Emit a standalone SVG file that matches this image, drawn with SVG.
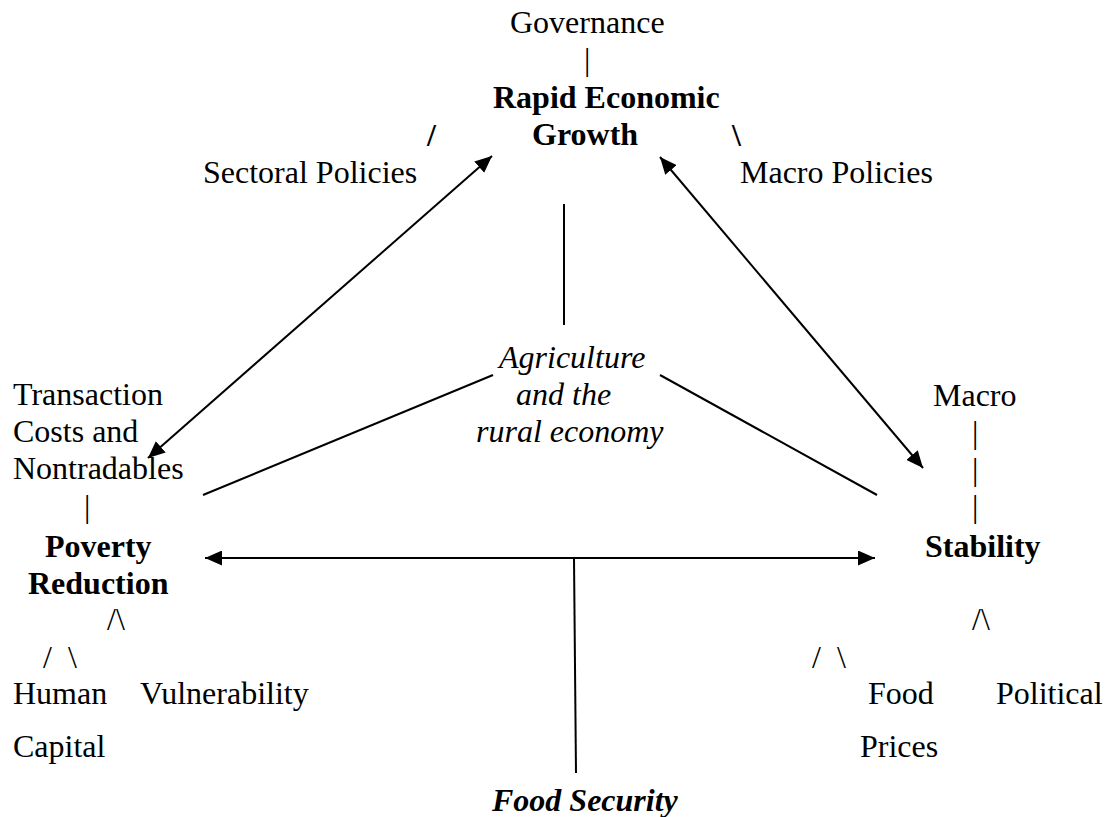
<svg xmlns="http://www.w3.org/2000/svg" width="1105" height="817" viewBox="0 0 1105 817">
<style>
text{font-family:'Liberation Serif','Times New Roman',Times,'DejaVu Serif',serif;font-size:32px;fill:#000}
.b{font-weight:bold}
.i{font-style:italic}
.c{stroke:#000;stroke-width:2;fill:none}
</style>
<defs>
<marker id="ah" markerUnits="userSpaceOnUse" markerWidth="17" markerHeight="15" refX="17" refY="7.5" orient="auto-start-reverse">
<path d="M0,0 L17,7.5 L0,15 z" fill="#000"/>
</marker>
</defs>
<rect width="1105" height="817" fill="#fff"/>
<g id="connectors">
<line class="c" x1="148" y1="458" x2="492" y2="156" marker-start="url(#ah)" marker-end="url(#ah)"/>
<line class="c" x1="660" y1="157" x2="923" y2="468" marker-start="url(#ah)" marker-end="url(#ah)"/>
<line class="c" x1="205" y1="558" x2="875" y2="558" marker-start="url(#ah)" marker-end="url(#ah)"/>
<line class="c" x1="564" y1="204" x2="564" y2="325"/>
<line class="c" x1="203" y1="495" x2="493" y2="375"/>
<line class="c" x1="660" y1="375" x2="877" y2="495"/>
<line class="c" x1="574" y1="558" x2="576" y2="773"/>
</g>
<g id="governance" font-family="Liberation Serif, serif"><text x="510" y="33">Governance</text><text x="584" y="70">|</text></g>
<g id="growth"><text class="b" x="493" y="108">Rapid Economic</text><text class="b" x="532" y="145">Growth</text></g>
<g id="sectoral"><text class="b" x="427" y="146">/</text><text x="203" y="183">Sectoral Policies</text></g>
<g id="macro-policies"><text class="b" x="732" y="146">\</text><text x="740" y="183">Macro Policies</text></g>
<g id="agriculture"><text class="i" x="499" y="368">Agriculture</text><text class="i" x="516" y="405">and the</text><text class="i" x="476" y="442">rural economy</text></g>
<g id="transaction"><text x="13" y="405">Transaction</text><text x="13" y="442">Costs and</text><text x="13" y="479">Nontradables</text><text x="84" y="517">|</text></g>
<g id="poverty"><text class="b" x="45" y="557">Poverty</text><text class="b" x="28" y="594">Reduction</text></g>
<g id="poverty-branches"><text x="107" y="630">/\</text><text x="43" y="668">/</text><text x="68" y="668">\</text></g>
<g id="human-capital"><text x="13" y="704">Human</text><text x="13" y="757">Capital</text></g>
<g id="vulnerability"><text x="140" y="704">Vulnerability</text></g>
<g id="macro"><text x="933" y="406">Macro</text><text x="972" y="443">|</text><text x="972" y="480">|</text><text x="972" y="517">|</text></g>
<g id="stability"><text class="b" x="925" y="557">Stability</text></g>
<g id="stability-branches"><text x="972" y="630">/\</text><text x="812" y="668">/</text><text x="837" y="668">\</text></g>
<g id="food-prices"><text x="868" y="704">Food</text><text x="860" y="757">Prices</text></g>
<g id="political"><text x="996" y="704">Political</text></g>
<g id="food-security"><text class="b i" x="492" y="811">Food Security</text></g>
</svg>
